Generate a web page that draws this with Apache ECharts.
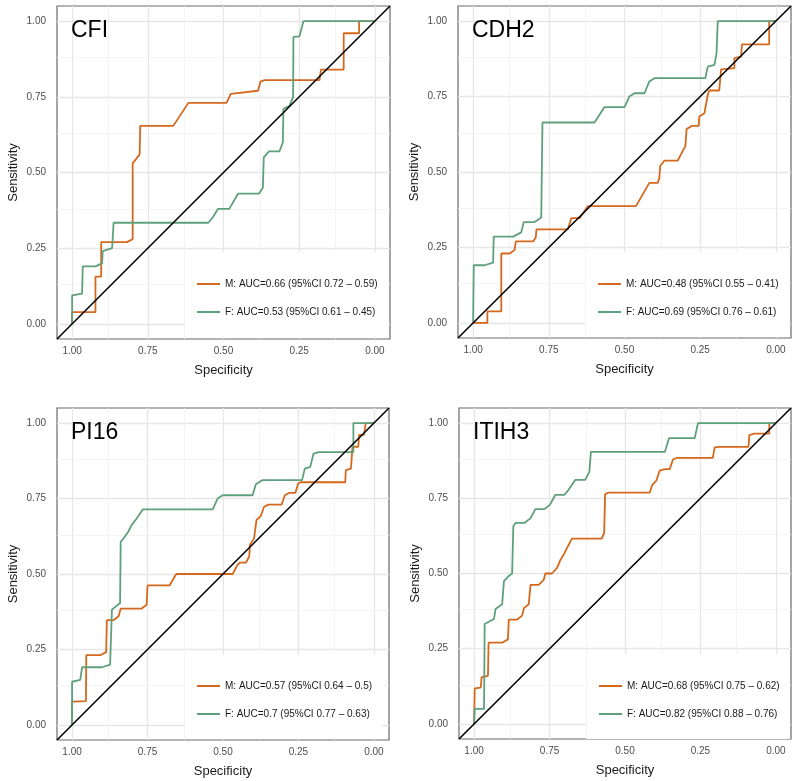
<!DOCTYPE html>
<html>
<head>
<meta charset="utf-8">
<script src="https://cdn.jsdelivr.net/npm/echarts@6/dist/echarts.min.js"></script>
<style>
html,body{margin:0;padding:0;background:#fff;}
#chart{width:800px;height:781px;}
</style>
</head>
<body>
<div id="chart"></div>
<script>
// ---- data: [specificity, sensitivity] ----
const panelTitles = ['CFI', 'CDH2', 'PI16', 'ITIH3'];
const legendM = [
  'M: AUC=0.66 (95%CI 0.72 – 0.59)',
  'M: AUC=0.48 (95%CI 0.55 – 0.41)',
  'M: AUC=0.57 (95%CI 0.64 – 0.5)',
  'M: AUC=0.68 (95%CI 0.75 – 0.62)'
];
const legendF = [
  'F: AUC=0.53 (95%CI 0.61 – 0.45)',
  'F: AUC=0.69 (95%CI 0.76 – 0.61)',
  'F: AUC=0.7 (95%CI 0.77 – 0.63)',
  'F: AUC=0.82 (95%CI 0.88 – 0.76)'
];
const tickValues = [0, 0.25, 0.5, 0.75, 1];
const minorValues = [0.125, 0.375, 0.625, 0.875];
const diagonal = [[1.05, -0.05], [-0.05, 1.05]];

const cfiM = [[1.0,0],[1.0,0.0385],[0.923,0.0385],[0.923,0.156],[0.904,0.156],[0.904,0.27],[0.819,0.27],[0.80,0.28],[0.80,0.53],[0.777,0.56],[0.775,0.654],[0.666,0.654],[0.616,0.73],[0.49,0.73],[0.476,0.76],[0.386,0.77],[0.378,0.80],[0.364,0.805],[0.183,0.805],[0.178,0.84],[0.103,0.84],[0.103,0.96],[0.052,0.96],[0.052,1.0],[0.0,1.0]];
const cfiF = [[1.0,0],[1.0,0.094],[0.967,0.10],[0.965,0.19],[0.923,0.19],[0.901,0.20],[0.899,0.24],[0.868,0.25],[0.863,0.334],[0.55,0.334],[0.534,0.354],[0.518,0.38],[0.481,0.38],[0.452,0.43],[0.383,0.43],[0.37,0.45],[0.367,0.55],[0.35,0.57],[0.315,0.57],[0.304,0.60],[0.302,0.71],[0.282,0.72],[0.27,0.75],[0.269,0.948],[0.249,0.95],[0.236,1.0],[0.0,1.0]];

const cdh2M = [[1.0,0],[0.953,0],[0.953,0.0385],[0.907,0.0385],[0.907,0.23],[0.879,0.23],[0.863,0.242],[0.859,0.27],[0.802,0.27],[0.793,0.283],[0.791,0.31],[0.687,0.31],[0.676,0.347],[0.648,0.347],[0.621,0.387],[0.462,0.387],[0.418,0.464],[0.39,0.464],[0.385,0.48],[0.382,0.52],[0.368,0.538],[0.324,0.538],[0.308,0.569],[0.299,0.585],[0.295,0.642],[0.277,0.653],[0.255,0.653],[0.253,0.684],[0.236,0.695],[0.225,0.756],[0.22,0.77],[0.187,0.77],[0.181,0.84],[0.137,0.844],[0.137,0.877],[0.115,0.882],[0.112,0.923],[0.022,0.923],[0.022,1.0],[0.0,1.0]];
const cdh2F = [[1.0,0],[0.998,0.191],[0.962,0.191],[0.934,0.20],[0.932,0.286],[0.868,0.286],[0.841,0.30],[0.833,0.334],[0.797,0.334],[0.775,0.349],[0.771,0.664],[0.599,0.664],[0.566,0.715],[0.50,0.715],[0.484,0.75],[0.467,0.761],[0.434,0.761],[0.418,0.80],[0.401,0.811],[0.233,0.811],[0.225,0.849],[0.203,0.855],[0.196,0.893],[0.192,1.0],[0.0,1.0]];

const pi16M = [[1.0,0],[1.0,0.077],[0.954,0.079],[0.953,0.231],[0.907,0.231],[0.887,0.241],[0.885,0.347],[0.863,0.347],[0.846,0.36],[0.839,0.385],[0.77,0.385],[0.753,0.398],[0.75,0.462],[0.677,0.462],[0.655,0.50],[0.468,0.50],[0.452,0.53],[0.444,0.538],[0.424,0.538],[0.413,0.558],[0.411,0.596],[0.397,0.618],[0.389,0.679],[0.375,0.692],[0.364,0.723],[0.35,0.73],[0.306,0.73],[0.295,0.761],[0.28,0.769],[0.26,0.769],[0.251,0.80],[0.243,0.804],[0.095,0.804],[0.093,0.844],[0.076,0.849],[0.071,0.921],[0.052,0.921],[0.049,0.961],[0.033,0.961],[0.027,1.0],[0.0,1.0]];
const pi16F = [[1.0,0],[1.0,0.143],[0.973,0.149],[0.967,0.191],[0.901,0.191],[0.874,0.20],[0.868,0.382],[0.841,0.404],[0.839,0.607],[0.825,0.624],[0.814,0.64],[0.803,0.662],[0.786,0.684],[0.766,0.714],[0.534,0.714],[0.518,0.75],[0.501,0.761],[0.402,0.761],[0.391,0.797],[0.37,0.811],[0.238,0.811],[0.229,0.849],[0.211,0.855],[0.20,0.899],[0.183,0.904],[0.068,0.904],[0.068,1.0],[0.0,1.0]];

const itih3M = [[1.0,0],[0.998,0.118],[0.978,0.121],[0.975,0.156],[0.954,0.16],[0.952,0.27],[0.907,0.27],[0.888,0.281],[0.885,0.347],[0.857,0.347],[0.841,0.36],[0.835,0.385],[0.819,0.398],[0.813,0.462],[0.786,0.462],[0.769,0.479],[0.764,0.50],[0.742,0.50],[0.725,0.519],[0.714,0.545],[0.703,0.563],[0.692,0.585],[0.676,0.616],[0.577,0.616],[0.569,0.635],[0.566,0.763],[0.555,0.769],[0.418,0.769],[0.41,0.794],[0.396,0.809],[0.385,0.842],[0.368,0.847],[0.352,0.847],[0.341,0.879],[0.33,0.884],[0.209,0.884],[0.203,0.919],[0.187,0.921],[0.091,0.921],[0.088,0.96],[0.071,0.965],[0.022,0.965],[0.022,1.0],[0.0,1.0]];
const itih3F = [[1.0,0],[0.998,0.05],[0.967,0.05],[0.965,0.332],[0.934,0.349],[0.929,0.382],[0.907,0.398],[0.901,0.475],[0.885,0.492],[0.874,0.50],[0.87,0.657],[0.863,0.668],[0.833,0.668],[0.813,0.684],[0.797,0.714],[0.767,0.714],[0.749,0.728],[0.731,0.761],[0.701,0.761],[0.687,0.778],[0.665,0.811],[0.632,0.811],[0.618,0.838],[0.613,0.904],[0.368,0.904],[0.354,0.95],[0.269,0.95],[0.258,1.0],[0.0,1.0]];

const seriesM = [cfiM, cdh2M, pi16M, itih3M];
const seriesF = [cfiF, cdh2F, pi16F, itih3F];

// ---- layout / style ----
const grids = [
  {left: 57, top: 6, width: 333, height: 333},
  {left: 458, top: 6, width: 333, height: 332},
  {left: 57, top: 408, width: 332, height: 332},
  {left: 459, top: 408, width: 332, height: 331}
];
const colM = '#D4691E';
const colF = '#5FA07C';
const FONT = '"Liberation Sans", Arial, Helvetica, sans-serif';

const option = {
  animation: false,
  backgroundColor: '#ffffff',
  textStyle: {fontFamily: FONT},
  grid: [], xAxis: [], yAxis: [], series: [], legend: [], title: []
};

grids.forEach((g, i) => {
  option.grid.push({left: g.left, top: g.top, width: g.width, height: g.height,
    show: true, borderColor: '#6A6A6A', borderWidth: 1.2, backgroundColor: 'transparent', containLabel: false});
  const axisCommon = {
    type: 'value', min: -0.05, max: 1.05, gridIndex: i,
    splitLine: {show: false}, axisLine: {show: false},
    axisTick: {show: true, customValues: tickValues, length: 4, lineStyle: {color: '#555', width: 1}},
    nameLocation: 'middle',
    nameTextStyle: {fontSize: 13, color: '#1a1a1a', fontFamily: FONT}
  };
  option.xAxis.push(Object.assign({}, axisCommon, {
    inverse: true, name: 'Specificity', nameGap: 25,
    axisLabel: {customValues: tickValues, fontSize: 10, color: '#4D4D4D', margin: 7, fontFamily: FONT,
      formatter: v => v.toFixed(2)}
  }));
  option.yAxis.push(Object.assign({}, axisCommon, {
    name: 'Sensitivity', nameGap: 37,
    axisLabel: {customValues: tickValues, fontSize: 10, color: '#4D4D4D', margin: 11, fontFamily: FONT,
      formatter: v => v.toFixed(2)}
  }));
  const gridLineData = [];
  tickValues.forEach(v => {
    gridLineData.push({xAxis: v, lineStyle: {color: '#E6E6E6', width: 1.3, type: 'solid'}});
    gridLineData.push({yAxis: v, lineStyle: {color: '#E6E6E6', width: 1.3, type: 'solid'}});
  });
  minorValues.forEach(v => {
    gridLineData.push({xAxis: v, lineStyle: {color: '#F1F1F1', width: 0.8, type: 'solid'}});
    gridLineData.push({yAxis: v, lineStyle: {color: '#F1F1F1', width: 0.8, type: 'solid'}});
  });
  // grid lines (drawn through the axes' scales)
  option.series.push({
    type: 'line', xAxisIndex: i, yAxisIndex: i, data: [], silent: true, z: 1,
    markLine: {silent: true, symbol: ['none', 'none'], z: 1, label: {show: false}, animation: false,
      emphasis: {disabled: true}, data: gridLineData}
  });
  option.series.push({
    name: legendM[i], type: 'line', xAxisIndex: i, yAxisIndex: i, data: seriesM[i],
    showSymbol: false, symbol: 'none', z: 3, color: colM,
    lineStyle: {color: colM, width: 1.8}, silent: true
  });
  option.series.push({
    name: legendF[i], type: 'line', xAxisIndex: i, yAxisIndex: i, data: seriesF[i],
    showSymbol: false, symbol: 'none', z: 3, color: colF,
    lineStyle: {color: colF, width: 1.8}, silent: true
  });
  option.series.push({
    type: 'line', xAxisIndex: i, yAxisIndex: i, data: diagonal,
    showSymbol: false, symbol: 'none', z: 4,
    lineStyle: {color: '#000', width: 1.6}, silent: true
  });
  option.legend.push({
    data: [legendM[i], legendF[i]],
    orient: 'vertical', left: g.left + 128, top: g.top + 246,
    padding: [26, 10, 19, 12], itemGap: 16,
    itemWidth: 23, itemHeight: 2, icon: 'rect',
    backgroundColor: '#ffffff', selectedMode: false,
    textStyle: {fontSize: 10, color: '#1a1a1a', fontFamily: FONT, lineHeight: 12}
  });
  option.title.push({
    text: panelTitles[i], left: g.left + 14, top: g.top + 13, padding: 0,
    textStyle: {fontSize: 23, fontWeight: 'normal', color: '#000', fontFamily: FONT}
  });
});

const chart = echarts.init(document.getElementById('chart'), null, {renderer: 'canvas'});
chart.setOption(option);
</script>
</body>
</html>
